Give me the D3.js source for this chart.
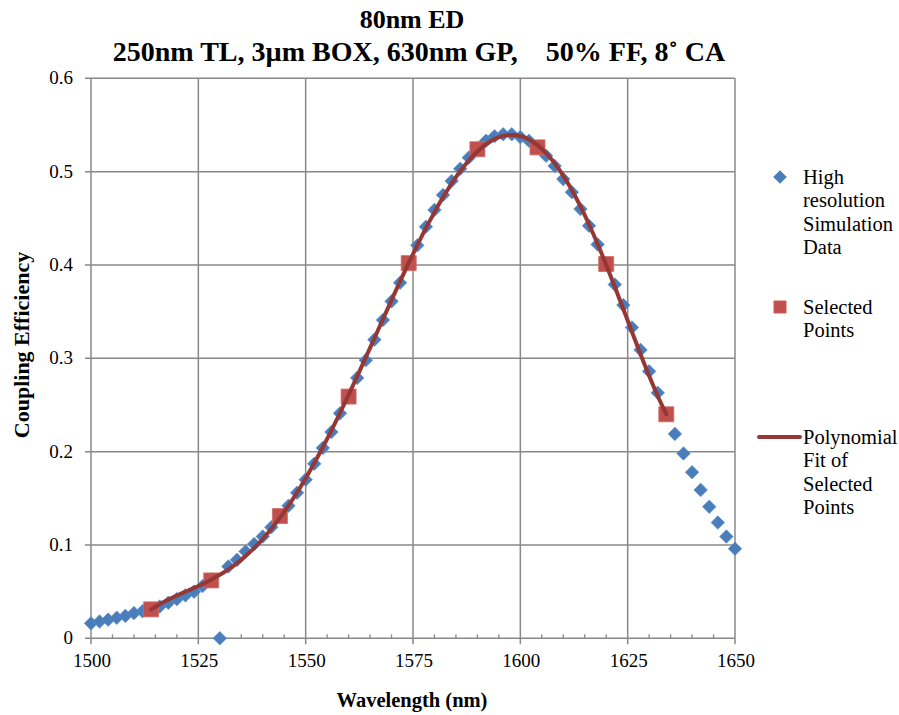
<!DOCTYPE html>
<html><head><meta charset="utf-8">
<script src="https://cdn.jsdelivr.net/npm/d3@7"></script>
<style>body{margin:0;background:#fff}svg{display:block}text{font-family:"Liberation Serif","Times New Roman",serif;fill:#000}</style>
</head><body><svg id="c" width="899" height="715"></svg>
<script>
const wavelengths = [1500,1502,1504,1506,1508,1510,1512,1514,1516,1518,1520,1522,1524,1526,1528,1530,1532,1534,1536,1538,1540,1542,1544,1546,1548,1550,1552,1554,1556,1558,1560,1562,1564,1566,1568,1570,1572,1574,1576,1578,1580,1582,1584,1586,1588,1590,1592,1594,1596,1598,1600,1602,1604,1606,1608,1610,1612,1614,1616,1618,1620,1622,1624,1626,1628,1630,1632,1634,1636,1638,1640,1642,1644,1646,1648,1650];
const simValues = [0.016,0.018,0.020,0.022,0.024,0.027,0.029,0.031,0.034,0.038,0.042,0.046,0.050,0.056,0.063,0.000,0.077,0.084,0.093,0.101,0.109,0.119,0.130,0.142,0.156,0.170,0.187,0.204,0.221,0.241,0.259,0.279,0.298,0.320,0.341,0.361,0.381,0.402,0.421,0.441,0.459,0.475,0.490,0.503,0.515,0.524,0.533,0.538,0.540,0.540,0.537,0.533,0.526,0.517,0.506,0.492,0.478,0.460,0.442,0.422,0.401,0.379,0.357,0.333,0.309,0.286,0.263,0.240,0.219,0.198,0.178,0.159,0.141,0.124,0.109,0.096];
const selWavelengths = [1514,1528,1544,1560,1574,1590,1604,1620,1634];
const selValues = [0.031,0.062,0.131,0.259,0.402,0.524,0.526,0.401,0.240];
const xTicks = [1500,1525,1550,1575,1600,1625,1650];
const yTicks = [0,0.1,0.2,0.3,0.4,0.5,0.6];
const titleLines = ["80nm ED","250nm TL, 3\u00b5m BOX, 630nm GP,\u00a0\u00a0\u00a0 50% FF, 8\u02da CA"];
const legendItems = [
  {type:"diamond", lines:["High","resolution","Simulation","Data"]},
  {type:"square", lines:["Selected","Points"]},
  {type:"line", lines:["Polynomial","Fit of","Selected","Points"]}
];
const fitDegree = 6;

const svg = d3.select("#c");
const x = d3.scaleLinear().domain([1500,1650]).range([91,735]);
const y = d3.scaleLinear().domain([0,0.6]).range([638.3,78.3]);
const grid = "#888888";
const blue = "#4a7ebb", red = "#c0504d", fitCol = "#953735";

// gridlines
svg.append("g").selectAll("line").data(yTicks).join("line")
  .attr("x1",85).attr("x2",x(1650)).attr("y1",d=>y(d)).attr("y2",d=>y(d))
  .attr("stroke",grid).attr("stroke-width",1.5);
svg.append("g").selectAll("line").data(xTicks).join("line")
  .attr("x1",d=>x(d)).attr("x2",d=>x(d)).attr("y1",y(0.6)).attr("y2",y(0)+6)
  .attr("stroke",grid).attr("stroke-width",1.5);
const minor = d3.range(1505,1650,5).filter(v=>v%25!==0);
svg.append("g").selectAll("line").data(minor).join("line")
  .attr("x1",d=>x(d)).attr("x2",d=>x(d)).attr("y1",y(0)-4).attr("y2",y(0))
  .attr("stroke",grid).attr("stroke-width",1.3);

// tick labels
svg.append("g").selectAll("text").data(yTicks).join("text")
  .attr("x",73).attr("y",d=>y(d)+6).attr("text-anchor","end")
  .style("font-size","19px").text(d=>d===0?"0":d3.format(".1f")(d));
svg.append("g").selectAll("text").data(xTicks).join("text")
  .attr("x",d=>x(d)+1).attr("y",667).attr("text-anchor","middle")
  .style("font-size","19px").text(d=>d);

// axis titles
svg.append("text").attr("x",412).attr("y",707).attr("text-anchor","middle")
  .style("font-size","20.5px").style("font-weight","bold").text("Wavelength (nm)");
svg.append("text").attr("transform","translate(29,345) rotate(-90)").attr("text-anchor","middle")
  .style("font-size","22px").style("font-weight","bold").text("Coupling Efficiency");

// title
svg.append("g").selectAll("text").data(titleLines).join("text")
  .attr("x",(d,i)=>i?419:412).attr("y",(d,i)=>28+i*33).attr("text-anchor","middle")
  .style("font-size",(d,i)=>i?"28px":"26px").style("font-weight","bold").text(d=>d);

const diamond = d3.symbol(d3.symbolSquare, 92);
const square = d3.symbol(d3.symbolSquare, 225);

// simulation data
const sim = wavelengths.map((w,i)=>[w,simValues[i]]);
svg.append("g").selectAll("path").data(sim).join("path")
  .attr("d",diamond).attr("transform",d=>`translate(${x(d[0])},${y(d[1])}) rotate(45)`)
  .attr("fill",blue).attr("stroke","#5b8fcc").attr("stroke-width",0.6);

// selected points
const sel = selWavelengths.map((w,i)=>[w,selValues[i]]);
svg.append("g").selectAll("path").data(sel).join("path")
  .attr("d",square).attr("transform",d=>`translate(${x(d[0])},${y(d[1])})`)
  .attr("fill",red).attr("stroke","#d06a67").attr("stroke-width",0.8);

// polynomial least-squares fit of selected points
function polyfit(xs, ys, deg){
  const m = d3.mean(xs), s = (d3.max(xs)-d3.min(xs))/2;
  const t = xs.map(v=>(v-m)/s);
  const n = deg+1;
  const A = Array.from({length:n},()=>new Array(n+1).fill(0));
  for(let r=0;r<n;r++){
    for(let c=0;c<n;c++) A[r][c] = d3.sum(t, v=>Math.pow(v,r+c));
    A[r][n] = d3.sum(t, (v,i)=>Math.pow(v,r)*ys[i]);
  }
  for(let i=0;i<n;i++){
    let p=i; for(let k=i+1;k<n;k++) if(Math.abs(A[k][i])>Math.abs(A[p][i])) p=k;
    [A[i],A[p]]=[A[p],A[i]];
    for(let k=0;k<n;k++){ if(k===i) continue; const f=A[k][i]/A[i][i]; for(let c=i;c<=n;c++) A[k][c]-=f*A[i][c]; }
  }
  const coef = A.map((row,i)=>row[n]/row[i]);
  return v=>{ const u=(v-m)/s; return coef.reduce((acc,c,i)=>acc+c*Math.pow(u,i),0); };
}
const f = polyfit(selWavelengths, selValues, fitDegree);
const fitX = d3.range(selWavelengths[0], selWavelengths[selWavelengths.length-1]+0.01, 0.5);
svg.append("path").datum(fitX)
  .attr("d",d3.line().x(d=>x(d)).y(d=>y(f(d))))
  .attr("fill","none").attr("stroke",fitCol).attr("stroke-width",4).attr("stroke-linecap","round");

// legend
const lg = svg.append("g");
const blockY = [184, 314, 444];
legendItems.forEach((it,k)=>{
  const by = blockY[k];
  if(it.type==="diamond") lg.append("path").attr("d",diamond).attr("transform",`translate(780,${by-7}) rotate(45)`).attr("fill",blue);
  if(it.type==="square") lg.append("path").attr("d",d3.symbol(d3.symbolSquare,150)).attr("transform",`translate(780,${by-7})`).attr("fill",red).attr("stroke","#d06a67").attr("stroke-width",0.8);
  if(it.type==="line") lg.append("line").attr("x1",759).attr("x2",800).attr("y1",by-7).attr("y2",by-7).attr("stroke",fitCol).attr("stroke-width",4).attr("stroke-linecap","round");
  lg.selectAll(null).data(it.lines).join("text").attr("x",803).attr("y",(d,i)=>by+i*23.4)
    .style("font-size","20.5px").text(d=>d);
});
</script></body></html>
